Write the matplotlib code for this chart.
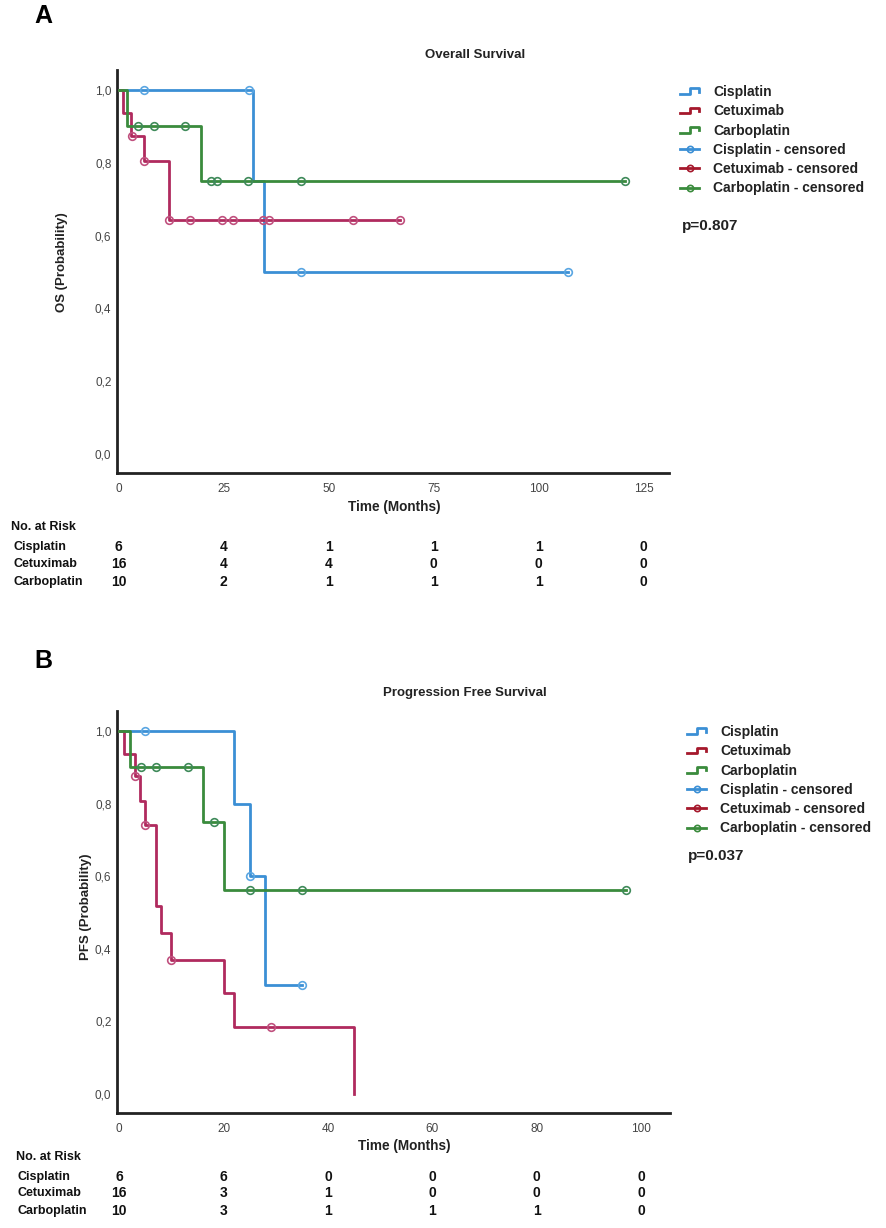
import numpy as np
import matplotlib.pyplot as plt
import matplotlib.transforms as mtransforms
from matplotlib.lines import Line2D
from matplotlib.legend_handler import HandlerBase
from matplotlib.ticker import FuncFormatter

# grupos de tratamiento
grupos = ['Cisplatin', 'Cetuximab', 'Carboplatin']

# Overall Survival: tiempos de cambio, supervivencia y censurados
os_cis_t = [0, 32, 34.5, 107]
os_cis_s = [1.0, 0.75, 0.5, 0.5]
os_cis_c = [6, 31, 43.3, 107]
os_cet_t = [0, 1, 3, 6, 12, 67]
os_cet_s = [1.0, 0.9375, 0.875, 0.804, 0.644, 0.644]
os_cet_c = [3.2, 6, 12, 17, 24.6, 27.1, 34.4, 35.8, 55.8, 67]
os_car_t = [0, 2, 19.6, 120.6]
os_car_s = [1.0, 0.9, 0.75, 0.75]
os_car_c = [4.7, 8.3, 15.9, 22, 23.4, 30.8, 43.3, 120.6]

# Progression Free Survival
pfs_cis_t = [0, 22, 25, 28, 35]
pfs_cis_s = [1.0, 0.8, 0.6, 0.3, 0.3]
pfs_cis_c = [5, 25, 35]
pfs_cet_t = [0, 1, 3, 4, 5, 7, 8, 10, 20, 22, 45]
pfs_cet_s = [1.0, 0.9375, 0.875, 0.808, 0.74, 0.518, 0.444, 0.37, 0.278, 0.185, 0.0]
pfs_cet_c = [3, 5, 10, 29]
pfs_car_t = [0, 2, 16, 20, 97]
pfs_car_s = [1.0, 0.9, 0.75, 0.5625, 0.5625]
pfs_car_c = [4.2, 7, 13.2, 18.2, 25, 35, 97]

# numero en riesgo
os_ticks = [0, 25, 50, 75, 100, 125]
os_riesgo = [[6, 4, 1, 1, 1, 0],
             [16, 4, 4, 0, 0, 0],
             [10, 2, 1, 1, 1, 0]]
pfs_ticks = [0, 20, 40, 60, 80, 100]
pfs_riesgo = [[6, 6, 0, 0, 0, 0],
              [16, 3, 1, 0, 0, 0],
              [10, 3, 1, 1, 1, 0]]

os_p = 'p=0.807'
pfs_p = 'p=0.037'

# colores
col_curva = ['#3b8fd5', '#b02a5e', '#3a8b3c']
col_marca = ['#5aa6e2', '#c0507e', '#3f8a5a']
col_leyenda = ['#3b8fd5', '#a5182c', '#3a8b3c']

plt.rcParams['font.family'] = ['Liberation Sans', 'DejaVu Sans']

W, H = 886, 1228
fig = plt.figure(figsize=(W / 100, H / 100), dpi=100)


def fx(px):
    return px / W


def fy(py):
    return 1 - py / H


class HandlerEscalon(HandlerBase):
    # icono de escalon para la leyenda
    def create_artists(self, legend, orig_handle, xdescent, ydescent,
                       width, height, fontsize, trans):
        x0 = -xdescent
        y0 = -ydescent
        xs = [x0, x0 + 0.5 * width, x0 + 0.5 * width, x0 + width, x0 + width]
        ys = [y0 + 0.2 * height, y0 + 0.2 * height, y0 + 0.8 * height,
              y0 + 0.8 * height, y0 + 0.45 * height]
        l = Line2D(xs, ys, color=orig_handle.get_color(), lw=2.0, transform=trans)
        return [l]


def valor_en(t, s, c):
    idx = np.searchsorted(t, c, side='right') - 1
    return np.array(s)[idx]


def panel(rect, datos, ticks, riesgo, titulo, ylabel, xmax, p_texto,
          titulo_pos, ylab_pos, xlab_pos, leyenda_pos, p_pos,
          tabla_y, tabla_lab_x, letra, letra_pos):
    ax = fig.add_axes(rect)
    for i, (t, s, c) in enumerate(datos):
        ax.step(t, s, where='post', color=col_curva[i], lw=2.0, zorder=3)
        ax.plot(c, valor_en(t, s, c), 'o', ms=5.5, mfc='none',
                mec=col_marca[i], mew=1.2, zorder=4)
    ax.set_xlim(-0.4, xmax)
    ax.set_ylim(-0.052, 1.055)
    ax.set_xticks(ticks)
    ax.set_yticks([0, 0.2, 0.4, 0.6, 0.8, 1.0])
    ax.yaxis.set_major_formatter(FuncFormatter(lambda v, pos: ('%.1f' % v).replace('.', ',')))
    for lado in ['top', 'right']:
        ax.spines[lado].set_visible(False)
    for lado in ['left', 'bottom']:
        ax.spines[lado].set_linewidth(2.0)
        ax.spines[lado].set_color('#222222')
    ax.tick_params(length=0, labelsize=8.5, labelcolor='#444444')
    for lbl in ax.get_xticklabels() + ax.get_yticklabels():
        lbl.set_family(['Liberation Sans Narrow', 'Liberation Sans'])
    ax.tick_params(axis='x', pad=7)
    ax.tick_params(axis='y', pad=4)

    fig.text(fx(titulo_pos[0]), fy(titulo_pos[1]), titulo, ha='center', va='center',
             fontsize=9.5, fontweight='bold', color='#222222')
    fig.text(fx(ylab_pos[0]), fy(ylab_pos[1]), ylabel, ha='center', va='center',
             rotation=90, fontsize=9.5, fontweight='bold', color='#222222')
    fig.text(fx(xlab_pos[0]), fy(xlab_pos[1]), 'Time (Months)', ha='center', va='center',
             fontsize=9.8, fontweight='bold', color='#222222')
    fig.text(fx(letra_pos[0]), fy(letra_pos[1]), letra, ha='center', va='center',
             fontsize=18, fontweight='bold', color='black')

    # leyenda
    manijas = [Line2D([], [], color=col_leyenda[i]) for i in range(3)]
    manijas += [Line2D([], [], color=col_leyenda[i], lw=2.0, marker='o', ms=4.5,
                       mfc='none', mew=1.2) for i in range(3)]
    etiquetas = grupos + [g + ' - censored' for g in grupos]
    mapa = {manijas[i]: HandlerEscalon() for i in range(3)}
    leg = ax.legend(manijas, etiquetas, handler_map=mapa, loc='upper left',
                    bbox_to_anchor=(fx(leyenda_pos[0]), fy(leyenda_pos[1])),
                    bbox_transform=fig.transFigure, frameon=False, borderpad=0,
                    borderaxespad=0, fontsize=10, labelspacing=0.38,
                    handlelength=1.4, handletextpad=1.0, handleheight=0.7)
    for txt in leg.get_texts():
        txt.set_fontweight('bold')
        txt.set_color('#222222')
    fig.text(fx(p_pos[0]), fy(p_pos[1]), p_texto, ha='left', va='center',
             fontsize=11, fontweight='bold', color='#222222')

    # tabla de numero en riesgo
    trans = mtransforms.blended_transform_factory(ax.transData, fig.transFigure)
    fig.text(fx(tabla_lab_x - 2), fy(tabla_y[0]), 'No. at Risk', ha='left', va='center',
             fontsize=9, fontweight='bold', color='#111111')
    for i, g in enumerate(grupos):
        fig.text(fx(tabla_lab_x), fy(tabla_y[i + 1]), g, ha='left', va='center',
                 fontsize=9, fontweight='bold', color='#111111')
        for j, tk in enumerate(ticks):
            ax.text(tk, fy(tabla_y[i + 1]), str(riesgo[i][j]), transform=trans,
                    ha='center', va='center', fontsize=10, fontweight='bold',
                    color='#111111', clip_on=False)
    return ax


panel([fx(117), fy(473), fx(669) - fx(117), (473 - 70) / H],
      [(os_cis_t, os_cis_s, os_cis_c), (os_cet_t, os_cet_s, os_cet_c),
       (os_car_t, os_car_s, os_car_c)],
      os_ticks, os_riesgo, 'Overall Survival', 'OS (Probability)', 131, os_p,
      (475, 55), (62, 262), (394, 507), (680, 85), (682, 226),
      [527, 547, 564, 582], 13, 'A', (43, 16))

panel([fx(117), fy(1113), fx(670) - fx(117), (1113 - 711) / H],
      [(pfs_cis_t, pfs_cis_s, pfs_cis_c), (pfs_cet_t, pfs_cet_s, pfs_cet_c),
       (pfs_car_t, pfs_car_s, pfs_car_c)],
      pfs_ticks, pfs_riesgo, 'Progression Free Survival', 'PFS (Probability)', 105.5, pfs_p,
      (465, 693), (86, 907), (404, 1146), (687, 725), (688, 856),
      [1157, 1177, 1193, 1211], 18, 'B', (43, 661))

fig.savefig('out.png', dpi=100, facecolor='white')
